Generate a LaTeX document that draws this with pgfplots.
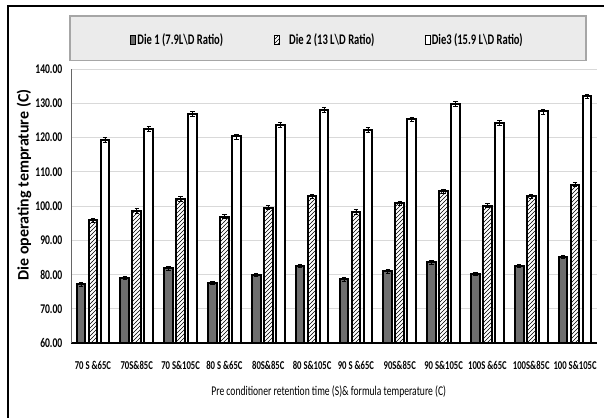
\documentclass[border=0pt]{standalone}
\usepackage{fontspec}
\setmainfont{Carlito}
\newfontfamily\cond{Carlito}[FakeStretch=0.72]
\usepackage{pgfplots}
\pgfplotsset{compat=1.18}
\usetikzlibrary{patterns}
\definecolor{dieone}{HTML}{6E6E6E}
\definecolor{legfill}{HTML}{EBEBEB}
\definecolor{legline}{HTML}{A6A6A6}
\definecolor{gridc}{HTML}{D9D9D9}
\begin{document}
\begin{tikzpicture}
\useasboundingbox (0,0) rectangle (453pt,313.5pt);
\fill[white] (0,0) rectangle (453pt,313.5pt);
\draw[black, line width=1.6pt] (6pt,0) -- (6pt,309pt) -- (453pt,309pt);
\draw[draw=legline, fill=legfill, line width=0.8pt] (52.5pt,268.1pt) rectangle (439.5pt,301.5pt);
\begin{axis}[
  at={(53.25pt,56.25pt)}, anchor=south west, scale only axis,
  width=394.5pt, height=205.5pt,
  ybar=2.6pt, bar width=6.4pt,
  xmin=-0.5, xmax=11.5, ymin=60, ymax=140,
  ytick={60,70,...,140}, xtick={0,...,11},
  xticklabels={70 S \&65C, 70S\&85C, 70 S\&105C, 80 S \&65C, 80S\&85C, 80 S\&105C, 90 S \&65C, 90S\&85C, 90 S\&105C, 100S \&65C, 100S\&85C, 100 S\&105C},
  axis x line*=bottom, axis y line*=left,
  x axis line style={line width=1.3pt, -},
  y axis line style={gray!80!black, line width=0.7pt, -},
  major tick length=0pt,
  ymajorgrids, grid style={gridc, line width=0.7pt},
  /pgf/number format/assume math mode=true,
  yticklabel style={font=\cond\bfseries\fontsize{10}{12}\selectfont,
    /pgf/number format/fixed, /pgf/number format/fixed zerofill, /pgf/number format/precision=2, xshift=-3pt},
  xticklabel style={font=\cond\bfseries\fontsize{9}{11}\selectfont, yshift=-10pt},
  xlabel={Pre conditioner retention time (S)\& formula temperature (C)},
  xlabel style={font=\cond\fontsize{10}{12}\selectfont, at={(axis description cs:0.49,0)}, anchor=center, yshift=-36.75pt},
  ylabel={Die operating temprature (C)},
  ylabel style={font=\bfseries\fontsize{12}{14}\selectfont, at={(axis description cs:-0.0894,0.577)}, anchor=center},
  legend style={at={(0.488,1.105)}, anchor=center, draw=none, fill=none,
    legend columns=3, /tikz/every even column/.append style={column sep=36pt},
    font=\cond\bfseries\fontsize{11}{13}\selectfont},
  error bars/y dir=both, error bars/y explicit,
  error bars/error bar style={black, line width=0.5pt},
  error bars/error mark options={rotate=90, mark size=1.6pt, line width=0.5pt, black},
  sqleg/.style={legend image code/.code={\draw[##1, line width=0.8pt] (0pt,-3.5pt) rectangle (3.8pt,3.8pt);}},
]
\addplot[draw=black, line width=1.5pt, fill=dieone, sqleg] coordinates {
(0,77.1) +- (0,0.5) (1,79.1) +- (0,0.5) (2,81.8) +- (0,0.5) (3,77.6) +- (0,0.5)
(4,79.9) +- (0,0.5) (5,82.6) +- (0,0.5) (6,78.6) +- (0,0.5) (7,80.9) +- (0,0.5)
(8,83.6) +- (0,0.5) (9,80.2) +- (0,0.5) (10,82.5) +- (0,0.5) (11,85.2) +- (0,0.5)};
\addlegendentry{\hspace{-1pt}Die 1 (7.9L\textbackslash D Ratio)}
\addplot[draw=black, line width=1.5pt, fill=white, postaction={pattern=north east lines}, sqleg] coordinates {
(0,95.9) +- (0,0.6) (1,98.6) +- (0,0.6) (2,102.1) +- (0,0.6) (3,96.9) +- (0,0.6)
(4,99.5) +- (0,0.6) (5,102.9) +- (0,0.6) (6,98.3) +- (0,0.6) (7,100.8) +- (0,0.6)
(8,104.4) +- (0,0.6) (9,100.1) +- (0,0.6) (10,102.8) +- (0,0.6) (11,106.2) +- (0,0.6)};
\addlegendentry{\hspace{5pt}Die 2 (13 L\textbackslash D Ratio)}
\addplot[draw=black, line width=1.5pt, fill=white, sqleg] coordinates {
(0,119.4) +- (0,0.7) (1,122.5) +- (0,0.7) (2,126.9) +- (0,0.7) (3,120.3) +- (0,0.7)
(4,123.6) +- (0,0.7) (5,128.0) +- (0,0.7) (6,122.2) +- (0,0.7) (7,125.3) +- (0,0.7)
(8,129.8) +- (0,0.7) (9,124.3) +- (0,0.7) (10,127.6) +- (0,0.7) (11,132.0) +- (0,0.7)};
\addlegendentry{\hspace{-1.5pt}Die3 (15.9 L\textbackslash D Ratio)}
\end{axis}
\end{tikzpicture}
\end{document}
